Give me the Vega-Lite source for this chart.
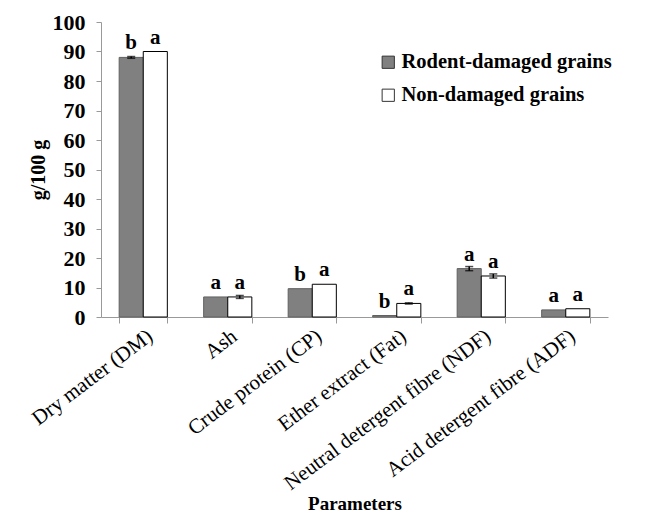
{
  "$schema": "https://vega.github.io/schema/vega-lite/v6.json",
  "width": 507,
  "height": 295,
  "autosize": {"type": "none"},
  "padding": {"left": 101, "top": 22, "right": 37, "bottom": 203},
  "background": "white",
  "config": {
    "view": {"stroke": null},
    "font": "Liberation Serif",
    "axis": {"labelFont": "Liberation Serif", "titleFont": "Liberation Serif", "labelColor": "black", "titleColor": "black", "domainColor": "#999999", "tickColor": "#999999", "grid": false},
    "axisY": {"titleFontSize": 20, "titleFontWeight": "bold", "titlePadding": 4, "labelFontSize": 22, "labelFontWeight": "bold", "labelPadding": 11, "tickSize": 5, "labelOverlap": false, "values": [0,10,20,30,40,50,60,70,80,90,100]},
    "legend": {"labelFont": "Liberation Serif"},
    "text": {"font": "Liberation Serif"}
  },
  "data": {
    "values": [
      {"param": "Dry matter (DM)", "group": "Rodent-damaged grains", "value": 88, "lo": 87.7, "hi": 88.3, "letter": "b"},
      {"param": "Dry matter (DM)", "group": "Non-damaged grains", "value": 90, "lo": null, "hi": null, "letter": "a"},
      {"param": "Ash", "group": "Rodent-damaged grains", "value": 6.8, "lo": null, "hi": null, "letter": "a"},
      {"param": "Ash", "group": "Non-damaged grains", "value": 6.8, "lo": 6.3, "hi": 7.3, "letter": "a"},
      {"param": "Crude protein (CP)", "group": "Rodent-damaged grains", "value": 9.6, "lo": null, "hi": null, "letter": "b"},
      {"param": "Crude protein (CP)", "group": "Non-damaged grains", "value": 11.1, "lo": null, "hi": null, "letter": "a"},
      {"param": "Ether extract (Fat)", "group": "Rodent-damaged grains", "value": 0.5, "lo": null, "hi": null, "letter": "b"},
      {"param": "Ether extract (Fat)", "group": "Non-damaged grains", "value": 4.6, "lo": 4.4, "hi": 4.8, "letter": "a"},
      {"param": "Neutral detergent fibre (NDF)", "group": "Rodent-damaged grains", "value": 16.4, "lo": 15.7, "hi": 17.1, "letter": "a"},
      {"param": "Neutral detergent fibre (NDF)", "group": "Non-damaged grains", "value": 13.9, "lo": 13.2, "hi": 14.6, "letter": "a"},
      {"param": "Acid detergent fibre (ADF)", "group": "Rodent-damaged grains", "value": 2.4, "lo": null, "hi": null, "letter": "a"},
      {"param": "Acid detergent fibre (ADF)", "group": "Non-damaged grains", "value": 2.8, "lo": null, "hi": null, "letter": "a"}
    ]
  },
  "encoding": {
    "x": {
      "field": "param", "type": "nominal", "sort": null,
      "scale": {"paddingInner": 0.43, "paddingOuter": 0.215},
      "axis": {"title": "Parameters", "titleFontSize": 19, "titleFontWeight": "bold", "titlePadding": 1, "labelAngle": -37, "labelAlign": "right", "labelBaseline": "top", "labelFontSize": 21, "labelPadding": 2, "tickBand": "extent", "tickSize": 6, "labelLimit": 400, "labelOverlap": false}
    },
    "xOffset": {"field": "group", "type": "nominal", "sort": ["Rodent-damaged grains", "Non-damaged grains"], "scale": {"paddingInner": 0, "paddingOuter": 0}}
  },
  "layer": [
    {
      "mark": {"type": "bar", "strokeWidth": 1},
      "encoding": {
        "y": {"field": "value", "type": "quantitative", "title": "g/100 g", "scale": {"domain": [0, 100]}},
        "fill": {"field": "group", "type": "nominal", "sort": ["Rodent-damaged grains", "Non-damaged grains"], "scale": {"range": ["#808080", "#ffffff"]}, "legend": {"title": null, "orient": "none", "legendX": 277, "legendY": 30, "symbolType": "square", "symbolSize": 150, "labelFontSize": 20.5, "labelFontWeight": "bold", "labelColor": "black", "rowPadding": 12, "labelOffset": 3, "padding": 0, "symbolStrokeWidth": 1, "symbolStrokeColor": "#333333", "labelLimit": 400}},
        "stroke": {"field": "group", "type": "nominal", "sort": ["Rodent-damaged grains", "Non-damaged grains"], "scale": {"range": ["#606060", "#000000"]}, "legend": null}
      }
    },
    {
      "transform": [{"filter": "isValid(datum.lo)"}],
      "mark": {"type": "rule", "color": "black", "strokeWidth": 1.5},
      "encoding": {"y": {"field": "lo", "type": "quantitative", "title": "g/100 g"}, "y2": {"field": "hi"}}
    },
    {
      "transform": [{"filter": "isValid(datum.lo)"}],
      "mark": {"type": "tick", "color": "black", "thickness": 1.5, "size": 8},
      "encoding": {"y": {"field": "lo", "type": "quantitative", "title": "g/100 g"}}
    },
    {
      "transform": [{"filter": "isValid(datum.lo)"}],
      "mark": {"type": "tick", "color": "black", "thickness": 1.5, "size": 8},
      "encoding": {"y": {"field": "hi", "type": "quantitative", "title": "g/100 g"}}
    },
    {
      "mark": {"type": "text", "font": "Liberation Serif", "fontWeight": "bold", "fontSize": 21, "baseline": "alphabetic", "dy": -8, "color": "black"},
      "encoding": {"y": {"field": "value", "type": "quantitative", "title": "g/100 g"}, "text": {"field": "letter"}}
    }
  ]
}
